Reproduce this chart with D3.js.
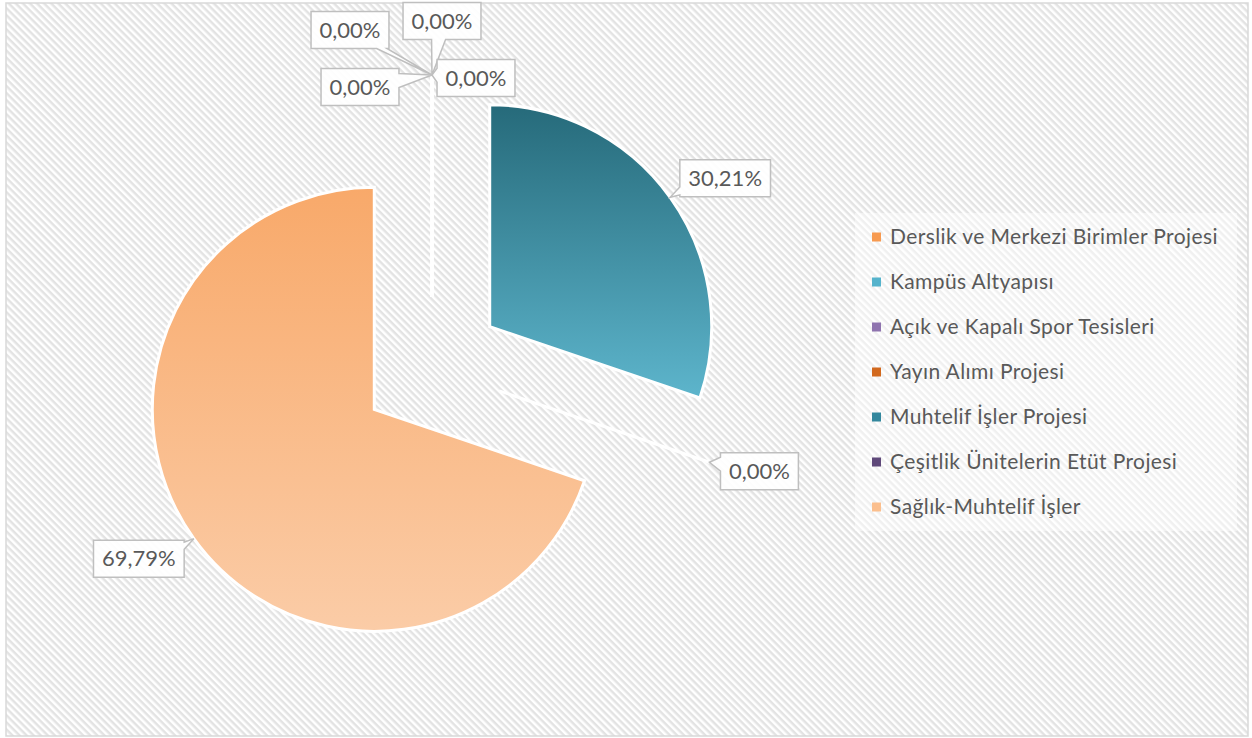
<!DOCTYPE html>
<html>
<head>
<meta charset="utf-8">
<script src="https://cdn.jsdelivr.net/npm/d3@7"></script>
<style>
  body { margin: 0; background: #fff; }
  svg { display: block; }
  text { font-family: Lato, "Open Sans", sans-serif; fill: #595959; }
</style>
</head>
<body>
<div id="chart"></div>
<script>
// data
var categories = ["Derslik ve Merkezi Birimler Projesi", "Kampüs Altyapısı", "Açık ve Kapalı Spor Tesisleri",
  "Yayın Alımı Projesi", "Muhtelif İşler Projesi", "Çeşitlik Ünitelerin Etüt Projesi", "Sağlık-Muhtelif İşler"];
var shares = [0, 0, 0, 0, 30.21, 0, 69.79];

// styles
var legendColors = ["#F79A50", "#55B3CC", "#8F74AF", "#D2691E", "#33879D", "#5F497A", "#FBBF8E"];
var sliceTop = ["#F79646", "#4BACC6", "#8064A2", "#E46C0A", "#266A7A", "#5F497A", "#F8A96A"];
var sliceBottom = ["#FAC090", "#93CDDD", "#B3A2C7", "#F4B183", "#5DB5CC", "#8B76A8", "#FBCCA7"];
// label box offsets from the slice tip
var labelOffsets = [[-82, -45], [10, -54], [-72, 12], [44, 3], [55, -19], [50, 9], [-55, 20]];

var width = 1252, height = 738;
var cx = 432, cy = 368, radius = 222, explode = 71;

var svg = d3.select("#chart").append("svg").attr("width", width).attr("height", height);
var defs = svg.append("defs");

var hatch = defs.append("pattern").attr("id", "hatch").attr("patternUnits", "userSpaceOnUse")
  .attr("width", 8).attr("height", 5).attr("patternTransform", "rotate(45)");
hatch.append("rect").attr("width", 8).attr("height", 5).attr("fill", "#fff");
hatch.append("rect").attr("width", 8).attr("height", 2.5).attr("fill", "#E3E3E3");

sliceTop.forEach(function (c, i) {
  var g = defs.append("linearGradient").attr("id", "grad" + i).attr("x1", 0).attr("y1", 0).attr("x2", 0).attr("y2", 1);
  g.append("stop").attr("offset", "0%").attr("stop-color", c);
  g.append("stop").attr("offset", "100%").attr("stop-color", sliceBottom[i]);
});

// chart area
svg.append("rect").attr("x", 6).attr("y", 3).attr("width", 1242).attr("height", 733)
  .attr("fill", "url(#hatch)").attr("stroke", "#D9D9D9").attr("stroke-width", 1.5);

var pie = d3.pie().sort(null).value(d => d);
var arcs = pie(shares);
var arc = d3.arc().innerRadius(0).outerRadius(radius);
var rim = d3.arc().innerRadius(radius).outerRadius(radius);

function shift(d) {
  var m = (d.startAngle + d.endAngle) / 2;
  return [explode * Math.sin(m), -explode * Math.cos(m)];
}

var pieG = svg.append("g").attr("transform", "translate(" + cx + "," + cy + ")");
pieG.selectAll("path.slice").data(arcs).enter().append("path").attr("class", "slice")
  .attr("transform", d => "translate(" + shift(d) + ")")
  .attr("d", arc)
  .attr("fill", (d, i) => "url(#grad" + i + ")")
  .attr("stroke", "#fff").attr("stroke-width", 3).attr("stroke-linejoin", "miter");

// data labels as wedge callouts
var fmt = d3.formatLocale({ decimal: ",", thousands: ".", grouping: [3], currency: ["", ""] }).format(".2f");

function callout(w, h, tx, ty) {
  var hw = w / 2, hh = h / 2, bw = 7;
  var sx = Math.abs(tx) > 0 ? hw / Math.abs(tx) : Infinity;
  var sy = Math.abs(ty) > 0 ? hh / Math.abs(ty) : Infinity;
  var s = Math.min(sx, sy), ex = tx * s, ey = ty * s;
  var side = sx < sy ? (tx > 0 ? 1 : 3) : (ty > 0 ? 2 : 0);
  var corners = [[-hw, -hh], [hw, -hh], [hw, hh], [-hw, hh]];
  var pts = [corners[0]];
  for (var k = 0; k < 4; k++) {
    var a = corners[k], b = corners[(k + 1) % 4];
    if (k === side) {
      var dx = Math.sign(b[0] - a[0]), dy = Math.sign(b[1] - a[1]);
      var p1, p2;
      if (dx !== 0) { var c1 = Math.max(-hw + 2, Math.min(hw - 2, ex - dx * bw)); var c2 = Math.max(-hw + 2, Math.min(hw - 2, ex + dx * bw)); p1 = [c1, a[1]]; p2 = [c2, a[1]]; }
      else { var d1 = Math.max(-hh + 2, Math.min(hh - 2, ey - dy * bw)); var d2 = Math.max(-hh + 2, Math.min(hh - 2, ey + dy * bw)); p1 = [a[0], d1]; p2 = [a[0], d2]; }
      pts.push(p1, [tx, ty], p2);
    }
    if (k < 3) pts.push(b);
  }
  return "M" + pts.map(p => p.join(",")).join("L") + "Z";
}

var labels = svg.append("g");
arcs.forEach(function (d, i) {
  var sh = shift(d), c = rim.centroid(d);
  var tip = [cx + c[0] + sh[0], cy + c[1] + sh[1]];
  var pos = [tip[0] + labelOffsets[i][0], tip[1] + labelOffsets[i][1]];
  var g = labels.append("g").attr("transform", "translate(" + pos + ")");
  var path = g.append("path");
  var t = g.append("text").attr("text-anchor", "middle").attr("dy", "0.35em")
    .style("font-size", "22px").text(fmt(d.data) + "%");
  var w = t.node().getComputedTextLength() + 17, h = 37;
  path.attr("d", callout(w, h, tip[0] - pos[0], tip[1] - pos[1]))
    .attr("fill", "#fff").attr("fill-opacity", 0.92).attr("stroke", "#BFBFBF").attr("stroke-width", 1.5);
});

// legend
var legend = svg.append("g").attr("transform", "translate(855,213)");
legend.append("rect").attr("width", 382).attr("height", 318).attr("fill", "#fff").attr("fill-opacity", 0.45);
var rows = legend.selectAll("g.row").data(categories).enter().append("g").attr("class", "row")
  .attr("transform", (d, i) => "translate(0," + (24 + i * 45) + ")");
rows.append("rect").attr("x", 17).attr("y", -4.5).attr("width", 9).attr("height", 9)
  .attr("fill", (d, i) => legendColors[i]);
rows.append("text").attr("x", 35).attr("dy", "0.35em").style("font-size", "21px")
  .style("letter-spacing", "0.4px").text(d => d);
</script>
</body>
</html>
